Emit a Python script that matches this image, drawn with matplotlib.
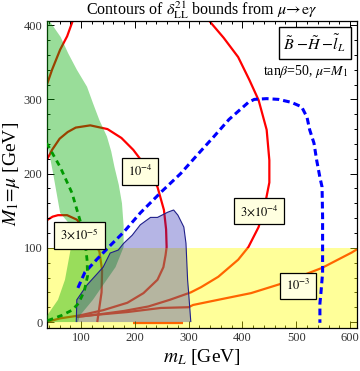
import matplotlib
matplotlib.use("Agg")
import matplotlib.pyplot as plt
from matplotlib.patches import Polygon
from matplotlib.ticker import MultipleLocator

plt.rcParams['font.family'] = ['Liberation Serif', 'DejaVu Serif']
plt.rcParams['mathtext.fontset'] = 'stix'

# ---------------- data ----------------
xlim = (36, 613)
ylim = (-8, 406)

# excluded / allowed regions
yellow_ymax = 100

green_x = [37, 62, 76, 92, 111, 122, 134, 148, 156, 162, 170, 176, 179, 179, 164, 141, 122, 98, 94,
           36, 36, 57, 70, 81, 83, 75, 61, 48, 36, 20, 20]
green_y = [410, 384, 362, 340, 317, 295, 272, 250, 230, 209, 185, 160, 130, 101, 74, 50, 30, 9, 0,
           0, 8, 30, 57, 100, 120, 135, 147, 200, 245, 260, 410]

blue_x = [91, 92, 111, 141, 154, 169, 179, 195, 210, 229, 242, 261, 272, 280, 291, 295, 298, 300, 304]
blue_y = [0, 30, 50, 74, 93, 97, 106, 117, 131, 141, 141, 148, 151, 144, 128, 106, 57, 39, 0]

# contours of delta_LL^21 bound
c3e5_x = [30, 36, 47, 57, 74, 92, 104, 122, 134, 139, 138, 133, 130]
c3e5_y = [130, 137, 142, 144, 144, 138, 128, 112, 95, 70, 40, 15, 0]

c1e4_x = [30, 36, 46, 60, 75, 90, 117, 149, 175, 197, 220, 242, 254, 258, 259, 257, 253, 242, 216,
          186, 141, 98, 61, 30]
c1e4_y = [210, 218, 232, 247, 256, 262, 265, 260, 248, 232, 210, 182, 151, 125, 101, 90, 74, 57, 39,
          26, 16, 9, 5, -1]

c3e4a_x = [30, 36, 46, 61, 74, 85, 90]
c3e4a_y = [308, 319, 340, 367, 385, 407, 415]
c3e4b_x = [330, 338, 365, 392, 413, 430, 445, 450, 450, 441, 430, 411, 392, 355, 323, 304, 265, 225,
           180, 140, 105, 92]
c3e4b_y = [415, 406, 383, 357, 326, 299, 259, 218, 188, 155, 128, 101, 84, 61, 47, 40, 30, 21,
           15, 11, 8, 7]

c1e3_x = [620, 617, 604, 548, 523, 478, 416, 355, 308, 300, 248, 186, 122, 92]
c1e3_y = [102, 100, 94, 73, 66, 53, 39, 30, 23, 20, 19, 13.5, 9.4, 7]

cbot_x = [197, 289]
cbot_y = [-1, -1]

# dashed curves
blue_dash_x = [94, 107, 130, 154, 179, 210, 250, 285, 317, 347, 375, 411, 422, 445, 467, 491, 510,
               520, 525, 533, 538, 544, 548, 549, 549, 549, 546, 544, 544]
blue_dash_y = [46, 67, 85, 103, 121, 147, 176, 200, 226, 250, 273, 296, 300, 301, 300, 296, 290,
               276, 259, 241, 218, 195, 182, 141, 97, 66, 40, 25, -1]

green_dash_x = [36, 61, 83, 98, 107, 111, 112, 106, 95, 83, 64, 38]
green_dash_y = [241, 209, 174, 137, 110, 84, 62, 42, 25, 16, 9, 2]

labels = [r"$10^{-4}$", r"$3{\times}10^{-5}$", r"$3{\times}10^{-4}$", r"$10^{-3}$"]
label_x = [210, 97, 431, 503]
label_y = [203, 117, 149, 49]

# ---------------- figure ----------------
fig = plt.figure(figsize=(3.6, 3.71), dpi=100)
ax = fig.add_axes([0.1297, 0.1159, 0.9917 - 0.1297, 0.9442 - 0.1159])
ax.set_xlim(*xlim)
ax.set_ylim(*ylim)

red = '#ff0000'
lw = 1.6
for cx, cy in [(c3e5_x, c3e5_y), (c1e4_x, c1e4_y), (c3e4a_x, c3e4a_y), (c3e4b_x, c3e4b_y),
               (c1e3_x, c1e3_y), (cbot_x, cbot_y)]:
    ax.plot(cx, cy, color=red, lw=lw, zorder=1, solid_capstyle='butt')

ax.axhspan(ylim[0], yellow_ymax, color='#ffff00', alpha=0.4, lw=0, zorder=2)
ax.add_patch(Polygon(list(zip(green_x, green_y)), closed=True, facecolor='#00aa00', alpha=0.4,
                     lw=0, zorder=3))
ax.add_patch(Polygon(list(zip(blue_x, blue_y)), closed=True, facecolor='#2020b0', alpha=0.33,
                     lw=0, zorder=4))
ax.add_patch(Polygon(list(zip(blue_x, blue_y)), closed=False, facecolor='none',
                     edgecolor='#20208a', lw=0.8, zorder=5))

ax.plot(blue_dash_x, blue_dash_y, color='#0000ff', lw=2.2, ls=(0, (2.2, 1.3)), zorder=6)
ax.plot(green_dash_x, green_dash_y, color='#009900', lw=2.0, ls=(0, (2.0, 1.6)), zorder=6)

for t, lx, ly in zip(labels, label_x, label_y):
    ax.text(lx, ly, t, fontsize=9, ha='center', va='center', zorder=8,
            bbox=dict(boxstyle='square,pad=0.45', facecolor='#ffffe0', edgecolor='black', lw=0.9))

ax.text(0.965, 0.928, r"$\tilde{B}\;{-}\tilde{H}\;{-}\tilde{l}_L$", transform=ax.transAxes,
        fontsize=11.5, ha='right', va='center', zorder=8,
        bbox=dict(boxstyle='square,pad=0.3', facecolor='white', edgecolor='black', lw=1.0))
ax.text(0.972, 0.836, r"tan$\beta$=50, $\mu$=$M_1$", transform=ax.transAxes, fontsize=10,
        ha='right', va='center', zorder=8)

ax.set_title(r"Contours of $\delta^{21}_{\rm LL}$ bounds from $\mu\!\rightarrow\!{\rm e}\gamma$",
             fontsize=11.5, pad=3)
ax.set_xlabel(r"$m_L$ [GeV]", fontsize=14, labelpad=2)
ax.set_ylabel(r"$M_1\!=\!\mu$ [GeV]", fontsize=14, labelpad=1)

ax.xaxis.set_major_locator(MultipleLocator(100))
ax.xaxis.set_minor_locator(MultipleLocator(20))
ax.yaxis.set_major_locator(MultipleLocator(100))
ax.yaxis.set_minor_locator(MultipleLocator(20))
ax.tick_params(which='both', direction='in', top=True, right=True, labelsize=9,
               labelcolor='#333333', width=0.7, pad=3)
ax.tick_params(which='major', length=5)
ax.tick_params(which='minor', length=2.5)
for s in ax.spines.values():
    s.set_linewidth(0.9)

fig.savefig('out.png', dpi=100)
